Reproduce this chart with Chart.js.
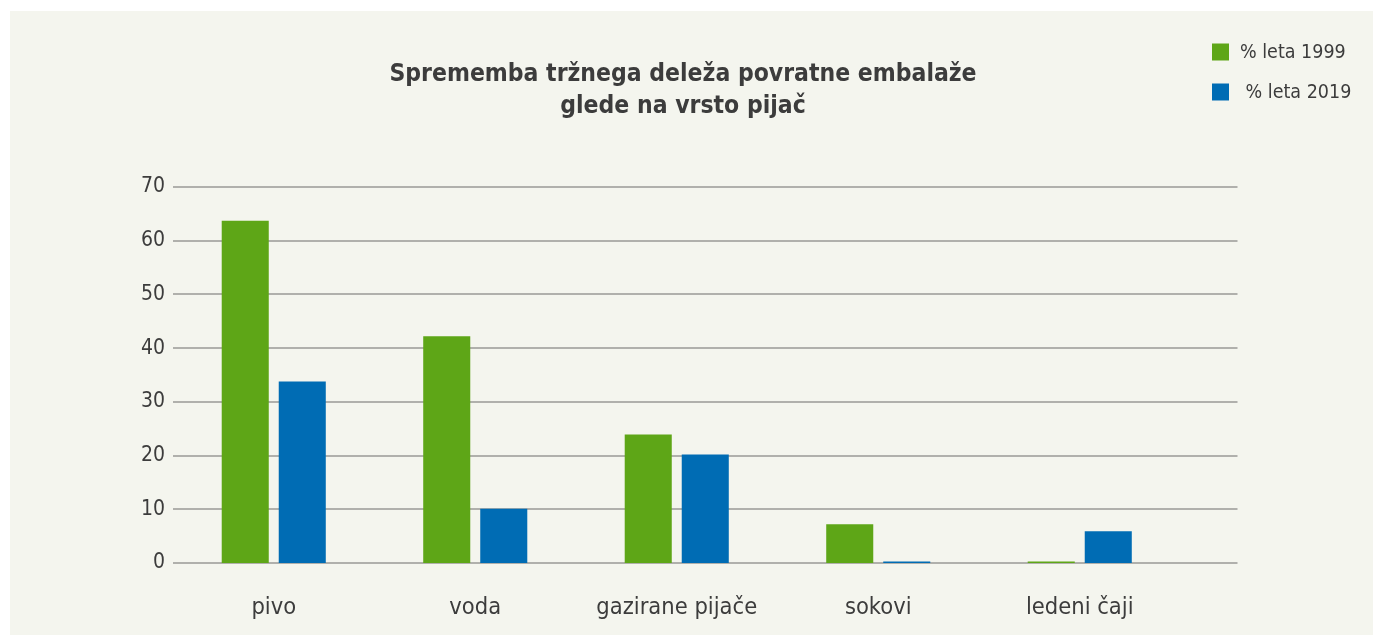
<!DOCTYPE html>
<html>
<head>
<meta charset="utf-8">
<script src="https://cdn.jsdelivr.net/npm/chart.js@4.4.1/dist/chart.umd.min.js"></script>
<style>
  html, body { margin: 0; padding: 0; background: #ffffff; }
  #panel { position: absolute; left: 10px; top: 11px; width: 1363px; height: 624px; background: #f4f5ee; }
  canvas { display: block; }
</style>
</head>
<body>
<div id="panel"><canvas id="chart" width="1363" height="624"></canvas></div>
<script>
const categories = ["pivo", "voda", "gazirane pijače", "sokovi", "ledeni čaji"];
const share1999 = [63.7, 42.2, 23.9, 7.2, 0.3];
const share2019 = [33.8, 10.1, 20.2, 0.3, 5.9];
const yTicks = [0, 10, 20, 30, 40, 50, 60, 70];
const seriesLabels = ["% leta 1999", " % leta 2019"];
const titleLines = ["Sprememba tržnega deleža povratne embalaže", "glede na vrsto pijač"];

const FONT = "'DejaVu Sans Condensed', 'Liberation Sans Narrow', sans-serif";
const TEXT = "#3c3c3c";
const GREEN = "#5ea617";
const BLUE = "#006cb4";
const GRID = "#b0b0ac";

// grid lines run a bit past the last category, like in the original
const extendedGrid = {
  id: "extendedGrid",
  beforeDatasetsDraw(chart) {
    const { ctx, chartArea, scales } = chart;
    ctx.save();
    ctx.strokeStyle = GRID;
    ctx.lineWidth = 2;
    yTicks.forEach(v => {
      const y = Math.round(scales.y.getPixelForValue(v));
      ctx.beginPath();
      ctx.moveTo(chartArea.left, y);
      ctx.lineTo(chartArea.right + 57, y);
      ctx.stroke();
    });
    ctx.restore();
  }
};

// title in the middle of the panel and legend in the top right corner
const headerAndLegend = {
  id: "headerAndLegend",
  afterDraw(chart) {
    const ctx = chart.ctx;
    ctx.save();
    ctx.fillStyle = TEXT;
    ctx.textAlign = "center";
    ctx.textBaseline = "middle";
    ctx.font = "bold 24.5px " + FONT;
    titleLines.forEach((line, i) => ctx.fillText(line, 673, 64 + i * 32));

    ctx.font = "19.5px " + FONT;
    ctx.textAlign = "left";
    chart.data.datasets.forEach((ds, i) => {
      const y = 41 + i * 40;
      ctx.fillStyle = ds.backgroundColor;
      ctx.fillRect(1202, y - 8.5, 17, 17);
      ctx.fillStyle = TEXT;
      ctx.fillText(ds.label, 1230, y + 1);
    });
    ctx.restore();
  }
};

new Chart(document.getElementById("chart"), {
  type: "bar",
  data: {
    labels: categories,
    datasets: [
      { label: seriesLabels[0], data: share1999, backgroundColor: GREEN },
      { label: seriesLabels[1], data: share2019, backgroundColor: BLUE }
    ]
  },
  options: {
    responsive: false,
    animation: false,
    categoryPercentage: 0.566,
    barPercentage: 0.825,
    layout: { padding: { left: 0, right: 192.5, top: 176, bottom: 0 } },
    plugins: {
      legend: { display: false },
      title: { display: false },
      tooltip: { enabled: false }
    },
    scales: {
      x: {
        grid: { display: false, drawTicks: false },
        border: { display: false },
        ticks: { color: TEXT, font: { family: FONT, size: 23.5 }, padding: 31, maxRotation: 0, autoSkip: false },
        afterFit(scale) { scale.height = 72; }
      },
      y: {
        min: 0,
        max: 70,
        grid: { display: false, drawTicks: false },
        border: { display: false },
        ticks: { color: TEXT, font: { family: FONT, size: 21 }, padding: 8, stepSize: 10 },
        afterBuildTicks(scale) { scale.ticks = yTicks.map(v => ({ value: v })); },
        afterFit(scale) { scale.width = 163; }
      }
    }
  },
  plugins: [extendedGrid, headerAndLegend]
});
</script>
</body>
</html>
